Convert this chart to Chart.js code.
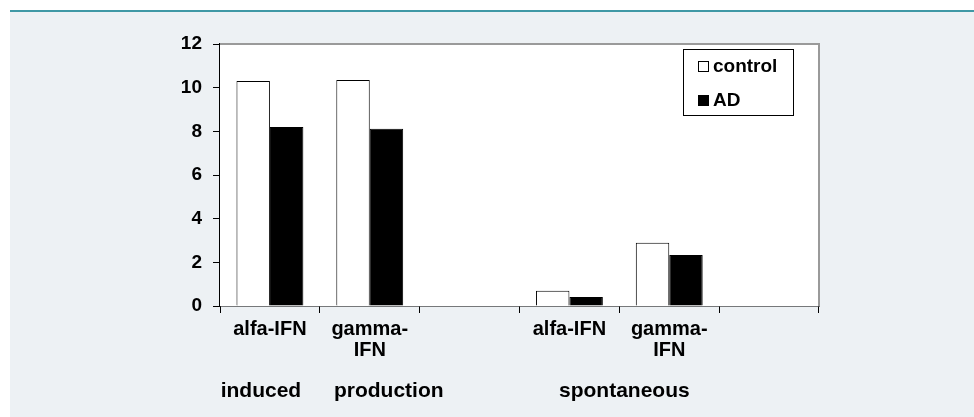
<!DOCTYPE html>
<html>
<head>
<meta charset="utf-8">
<script src="https://cdn.jsdelivr.net/npm/chart.js@4.4.1/dist/chart.umd.min.js"></script>
<style>
  html, body { margin: 0; padding: 0; background: #fff; }
  .panel {
    position: absolute; left: 10px; top: 10px; width: 964px; height: 405px;
    background: #edf1f4; border-top: 2px solid #3f98a5;
  }
  .wrap { position: absolute; left: 0; top: 0; width: 974px; height: 417px; }
</style>
</head>
<body>
<div class="panel"></div>
<div class="wrap"><canvas id="ifnChart" width="974" height="417"></canvas></div>
<script>
const categories = ['alfa-IFN', ['gamma-', 'IFN'], '', 'alfa-IFN', ['gamma-', 'IFN'], ''];
const controlValues = [10.3, 10.35, null, 0.7, 2.9, null];
const adValues = [8.2, 8.12, null, 0.41, 2.34, null];
const groupNames = ['induced', 'production', 'spontaneous'];
const yTicks = [0, 2, 4, 6, 8, 10, 12];

const FONT = 'Liberation Sans, Arial, sans-serif';

// white plot area with grey top/right frame
const plotFrame = {
    id: 'plotFrame',
    beforeDatasetsDraw(chart) {
        const { ctx, chartArea: a } = chart;
        ctx.save();
        ctx.fillStyle = '#fff';
        ctx.fillRect(a.left, a.top, a.right - a.left, a.bottom - a.top);
        ctx.strokeStyle = '#9a9a9a';
        ctx.lineWidth = 2;
        ctx.beginPath();
        ctx.moveTo(a.left, a.top);
        ctx.lineTo(a.right, a.top);
        ctx.lineTo(a.right, a.bottom);
        ctx.stroke();
        ctx.restore();
    }
};

// boxed legend inside the plot + group captions under the axis
const extras = {
    id: 'extras',
    afterDraw(chart, args, opts) {
        const { ctx, chartArea: a } = chart;
        const x = chart.scales.x;
        ctx.save();
        const bx = a.right - 136, by = a.top + 5;
        ctx.fillStyle = '#fff';
        ctx.fillRect(bx, by, 110, 66);
        ctx.strokeStyle = '#000';
        ctx.lineWidth = 1;
        ctx.strokeRect(bx + 0.5, by + 0.5, 110, 66);
        ctx.font = 'bold 19px ' + FONT;
        ctx.textBaseline = 'middle';
        chart.data.datasets.forEach((ds, i) => {
            const cy = by + 17 + i * 34;
            ctx.fillStyle = ds.backgroundColor;
            ctx.fillRect(bx + 15, cy - 5, 10, 10);
            ctx.strokeStyle = '#000';
            ctx.strokeRect(bx + 15.5, cy - 4.5, 10, 10);
            ctx.fillStyle = '#000';
            ctx.fillText(ds.label, bx + 30, cy + 1);
        });
        ctx.font = 'bold 21px ' + FONT;
        ctx.textAlign = 'center';
        ctx.textBaseline = 'alphabetic';
        groupNames.forEach((name, i) => {
            const p = opts.places[i];
            ctx.fillText(name, x.getPixelForValue(p.at) + p.dx, 397);
        });
        ctx.restore();
    }
};

new Chart(document.getElementById('ifnChart'), {
    type: 'bar',
    data: {
        labels: categories,
        datasets: [
            { label: 'control', data: controlValues, backgroundColor: '#ffffff', borderColor: '#000', borderWidth: 1 },
            { label: 'AD', data: adValues, backgroundColor: '#000000', borderColor: '#000', borderWidth: 1 }
        ]
    },
    options: {
        responsive: false,
        animation: false,
        categoryPercentage: 0.67,
        barPercentage: 1,
        layout: { padding: { top: 44, right: 155, left: 0, bottom: 0 } },
        plugins: {
            legend: { display: false },
            tooltip: { enabled: false },
            extras: { places: [{ at: 0, dx: -9 }, { at: 1, dx: 19 }, { at: 3.5, dx: 5 }] }
        },
        scales: {
            x: {
                offset: true,
                grid: { offset: true, drawOnChartArea: false, tickLength: 7, color: '#000' },
                border: { color: '#000', width: 1.5 },
                ticks: {
                    autoSkip: false, maxRotation: 0, padding: 6, color: '#000',
                    font: { family: FONT, size: 20, weight: 'bold', lineHeight: 1.05 }
                },
                afterFit(scale) { scale.height = 111; }
            },
            y: {
                min: 0, max: 12,
                afterBuildTicks(scale) { scale.ticks = yTicks.map(v => ({ value: v })); },
                grid: { drawOnChartArea: false, tickLength: 7, color: '#000' },
                border: { color: '#000', width: 1.5 },
                ticks: {
                    padding: 11, color: '#000',
                    font: { family: FONT, size: 19, weight: 'bold' }
                },
                afterFit(scale) { scale.width = 220; }
            }
        }
    },
    plugins: [plotFrame, extras]
});
</script>
</body>
</html>
